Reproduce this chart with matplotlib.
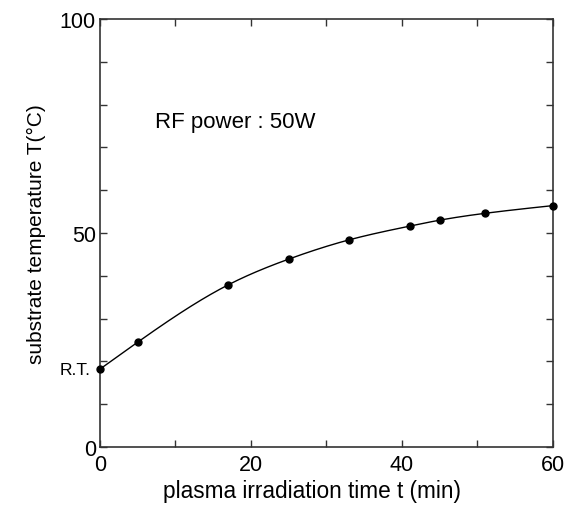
import numpy as np
import matplotlib
matplotlib.use("Agg")
import matplotlib.pyplot as plt

plt.rcParams['font.family'] = ['Liberation Sans', 'DejaVu Sans']

time_min = [0, 5, 17, 25, 33, 41, 45, 51, 60]
temp_c = [18.2, 24.5, 37.9, 43.9, 48.4, 51.6, 53.0, 54.6, 56.4]
x_ticklabels = ["0", "20", "40", "60"]
y_ticklabels = ["0", "50", "100"]


def natural_spline(x, y, xs):
    x = np.asarray(x, float); y = np.asarray(y, float)
    n = len(x)
    h = np.diff(x)
    A = np.zeros((n, n)); b = np.zeros(n)
    A[0, 0] = 1; A[-1, -1] = 1
    for i in range(1, n - 1):
        A[i, i - 1] = h[i - 1]
        A[i, i] = 2 * (h[i - 1] + h[i])
        A[i, i + 1] = h[i]
        b[i] = 3 * ((y[i + 1] - y[i]) / h[i] - (y[i] - y[i - 1]) / h[i - 1])
    c = np.linalg.solve(A, b)
    out = np.empty_like(xs)
    for k, xv in enumerate(xs):
        i = min(max(np.searchsorted(x, xv) - 1, 0), n - 2)
        dx = xv - x[i]
        bi = (y[i + 1] - y[i]) / h[i] - h[i] * (2 * c[i] + c[i + 1]) / 3
        di = (c[i + 1] - c[i]) / (3 * h[i])
        out[k] = y[i] + bi * dx + c[i] * dx ** 2 + di * dx ** 3
    return out


fig = plt.figure(figsize=(5.68, 5.06), dpi=100)
ax = fig.add_axes([0.176, 0.1146, 0.7976, 0.8459])

xs = np.linspace(time_min[0], time_min[-1], 300)
ax.plot(xs, natural_spline(time_min, temp_c, xs), color='black', lw=1.0)
ax.plot(time_min, temp_c, 'o', color='black', ms=5, clip_on=False, zorder=5)

ax.set_xlim(0, 60)
ax.set_ylim(0, 100)
ax.set_xticks([0, 20, 40, 60])
ax.set_xticklabels(x_ticklabels)
ax.set_xticks(np.arange(0, 61, 10), minor=True)
ax.set_yticks([0, 50, 100])
ax.set_yticklabels(y_ticklabels)
ax.set_yticks(np.arange(0, 101, 10), minor=True)

for axis_which in ['major', 'minor']:
    ax.tick_params(which=axis_which, direction='in', length=5, width=1.0,
                   top=True, right=True, labelsize=15.5, pad=3, color='#333333')
ax.tick_params(which='minor', labelsize=0)
ax.tick_params(axis='x', which='major', pad=5)

for s in ax.spines.values():
    s.set_linewidth(1.2)
    s.set_color('#333333')

ax.set_xlabel("plasma irradiation time t (min)", fontsize=16.3, labelpad=3)
ax.xaxis.label.set_x(0.469)
ax.set_ylabel("substrate temperature T(°C)", fontsize=15, labelpad=10)

ax.text(-1.3, temp_c[0], "R.T.", fontsize=12.5, ha='right', va='center')
ax.text(7.3, 76, "RF power : 50W", fontsize=16, ha='left', va='center')

fig.savefig("out.png", dpi=100)
